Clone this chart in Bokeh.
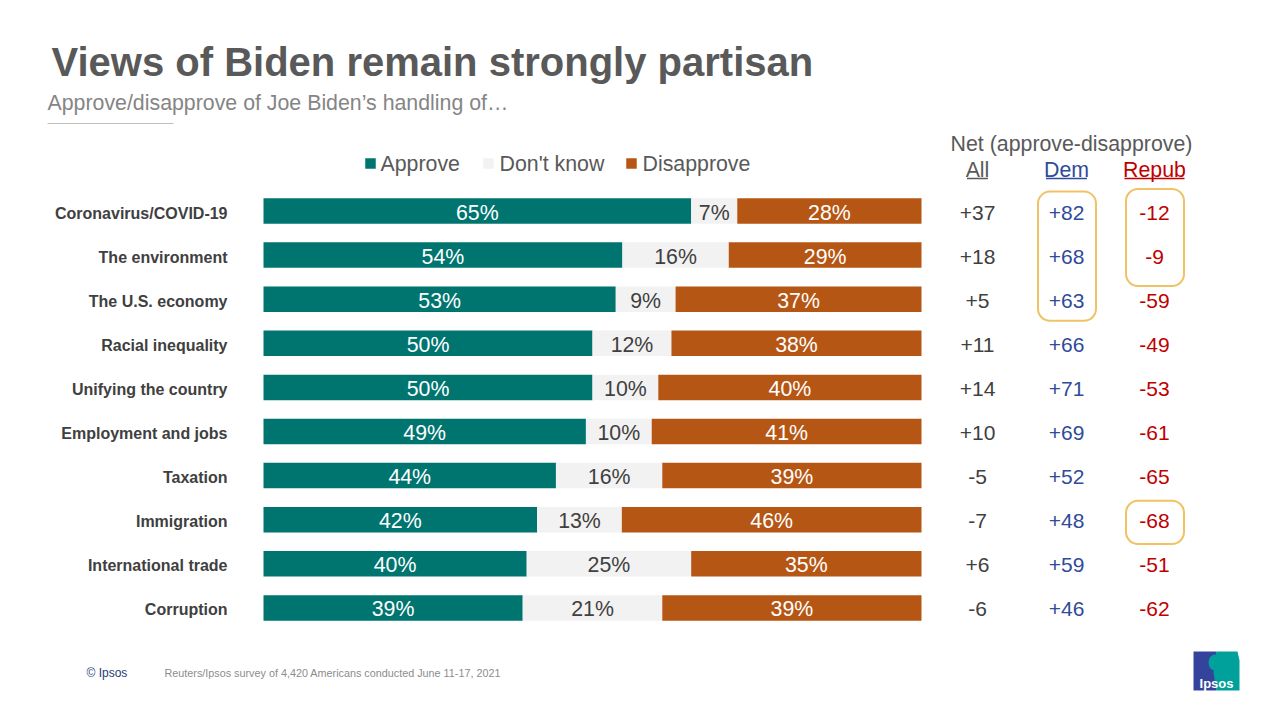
from bokeh.plotting import figure
from bokeh.models import Range1d
from bokeh.core.properties import value
from bokeh.embed import file_html
from bokeh.resources import INLINE

# ---------------- data ----------------
categories = ["Coronavirus/COVID-19", "The environment", "The U.S. economy",
              "Racial inequality", "Unifying the country", "Employment and jobs",
              "Taxation", "Immigration", "International trade", "Corruption"]
approve = [65, 54, 53, 50, 50, 49, 44, 42, 40, 39]
dont_know = [7, 16, 9, 12, 10, 10, 16, 13, 25, 21]
disapprove = [28, 29, 37, 38, 40, 41, 39, 46, 35, 39]
net_all = [37, 18, 5, 11, 14, 10, -5, -7, 6, -6]
net_dem = [82, 68, 63, 66, 71, 69, 52, 48, 59, 46]
net_rep = [-12, -9, -59, -49, -53, -61, -65, -68, -51, -62]
legend_labels = ["Approve", "Don't know", "Disapprove"]
net_headers = ["All", "Dem", "Repub"]
# highlighted cells: (column index, first row, last row)
highlights = [(1, 0, 2), (2, 0, 1), (2, 7, 7)]

TITLE = "Views of Biden remain strongly partisan"
SUBTITLE = "Approve/disapprove of Joe Biden\u2019s handling of\u2026"
NET_TITLE = "Net (approve-disapprove)"
SOURCE = "Reuters/Ipsos survey of 4,420 Americans conducted June 11-17, 2021"

# ---------------- style ----------------
TEAL = "#00756F"
LIGHT = "#F2F2F2"
ORANGE = "#B65614"
DARK = "#404040"
TITLE_C = "#595959"
SUB_C = "#858585"
BLUE = "#2F4B9A"
RED = "#C00000"
GOLD = "#F0C265"
FONT = value("Liberation Sans")

W, H, OFF = 1264, 704, 0
X0, X100 = 263, 921          # page px of 0% and 100%
SX = (X100 - X0) / 100.0
Y0, DY = 210.5, 44.1         # page px of first row centre, row pitch


def fx(px):
    return (px - X0) / SX


def fy(py):
    return (py - Y0) / DY


p = figure(width=W, height=H,
           x_range=Range1d(fx(OFF), fx(OFF + W)),
           y_range=Range1d(fy(OFF + H), fy(OFF)),
           output_backend="svg", toolbar_location=None,
           x_axis_location=None, y_axis_location=None,
           min_border=0, background_fill_color="white",
           border_fill_color="white")
p.grid.visible = False
p.outline_line_color = None

rows = list(range(len(categories)))
tot = [a + d + r for a, d, r in zip(approve, dont_know, disapprove)]
a_end = [a * 100.0 / t for a, t in zip(approve, tot)]
d_end = [(a + d) * 100.0 / t for a, d, t in zip(approve, dont_know, tot)]
r_end = [100.0 for _ in rows]

BH = 25.5 / DY
p.hbar(y=rows, left=0, right=a_end, height=BH, fill_color=TEAL, line_color=None)
p.hbar(y=rows, left=a_end, right=d_end, height=BH, fill_color=LIGHT, line_color=None)
p.hbar(y=rows, left=d_end, right=r_end, height=BH, fill_color=ORANGE, line_color=None)

lab_y = [r + 1.5 / DY for r in rows]
p.text(x=[e / 2 for e in a_end], y=lab_y, text=[f"{v}%" for v in approve],
       text_align="center", text_baseline="middle", text_font=FONT,
       text_font_size="21.33px", text_color="white")
p.text(x=[(a + d) / 2 for a, d in zip(a_end, d_end)], y=lab_y,
       text=[f"{v}%" for v in dont_know],
       text_align="center", text_baseline="middle", text_font=FONT,
       text_font_size="21.33px", text_color=DARK)
p.text(x=[(d + 100) / 2 for d in d_end], y=lab_y,
       text=[f"{v}%" for v in disapprove],
       text_align="center", text_baseline="middle", text_font=FONT,
       text_font_size="21.33px", text_color="white")

# category labels
p.text(x=fx(227), y=[r + 2 / DY for r in rows], text=categories,
       text_align="right", text_baseline="middle", text_font=FONT,
       text_font_style="bold", text_font_size="16px", text_color=DARK)

# net columns
net_x = [fx(977), fx(1066), fx(1154)]
net_cols = [net_all, net_dem, net_rep]
net_colors = [DARK, BLUE, RED]
for cx, vals, col in zip(net_x, net_cols, net_colors):
    p.text(x=cx, y=lab_y, text=[f"{v:+d}" for v in vals],
           text_align="center", text_baseline="middle", text_font=FONT,
           text_font_size="21px", text_color=col)

# highlight boxes
hx, hy, hh = [], [], []
pads = [(0.44, 0.49), (0.50, 0.70), (0.43, 0.55)]
for (c, r0, r1), (pt, pb) in zip(highlights, pads):
    top = r0 - pt
    bot = r1 + pb
    hx.append(net_x[c] + 0.5 / SX)
    hy.append((top + bot) / 2)
    hh.append(bot - top)
p.rect(x=hx, y=hy, width=58 / SX, height=hh, fill_color=None,
       line_color=GOLD, line_width=2, border_radius=12)

# net headers
p.text(x=[fx(1071)], y=[fy(143)], text=[NET_TITLE], text_align="center",
       text_baseline="middle", text_font=FONT, text_font_size="21.33px",
       text_color=TITLE_C)
p.text(x=net_x, y=fy(169), text=net_headers, text_align="center",
       text_baseline="middle", text_font=FONT, text_font_size="21.33px",
       text_color=[TITLE_C, BLUE, RED])
half_w = [10.5, 20.5, 30]
p.segment(x0=[cx - hw / SX for cx, hw in zip(net_x, half_w)], y0=fy(178),
          x1=[cx + hw / SX for cx, hw in zip(net_x, half_w)], y1=fy(178),
          line_color=[TITLE_C, BLUE, RED], line_width=1.5)

# title & subtitle
p.text(x=[fx(51)], y=[fy(61)], text=[TITLE], text_align="left",
       text_baseline="middle", text_font=FONT, text_font_style="bold",
       text_font_size="40px", text_color=TITLE_C)
p.text(x=[fx(47)], y=[fy(102)], text=[SUBTITLE], text_align="left",
       text_baseline="middle", text_font=FONT, text_font_size="21.33px",
       text_color=SUB_C)
p.segment(x0=[fx(47)], y0=[fy(123)], x1=[fx(173)], y1=[fy(123)],
          line_color="#BFBFBF", line_width=1)

# legend
leg_sq_x = [fx(370), fx(488), fx(631)]
leg_tx_x = [fx(380), fx(499), fx(642)]
p.scatter(x=leg_sq_x, y=fy(163), marker="square", size=10.5,
          fill_color=[TEAL, LIGHT, ORANGE], line_color=None)
p.text(x=leg_tx_x, y=fy(163), text=legend_labels, text_align="left",
       text_baseline="middle", text_font=FONT, text_font_size="21.33px",
       text_color=TITLE_C)

# footer
p.text(x=[fx(86)], y=[fy(672)], text=["\u00a9 Ipsos"], text_align="left",
       text_baseline="middle", text_font=FONT, text_font_size="12px",
       text_color="#1F3B73")
p.text(x=[fx(164)], y=[fy(672)], text=[SOURCE], text_align="left",
       text_baseline="middle", text_font=FONT, text_font_size="10.8px",
       text_color="#8C8C8C")

# Ipsos logo
p.quad(left=[fx(1193)], right=[fx(1216)], top=[fy(651)], bottom=[fy(690)],
       fill_color="#34449C", line_color=None)
p.patch(x=[fx(1216), fx(1237), fx(1239), fx(1239), fx(1216), fx(1213), fx(1214)],
        y=[fy(651), fy(651), fy(660), fy(690), fy(690), fy(672), fy(660)],
        fill_color="#00A19B", line_color=None)
p.ellipse(x=[fx(1214.5)], y=[fy(662)], width=13 / SX, height=16 / DY,
          fill_color="#00A19B", line_color=None)
p.text(x=[fx(1216)], y=[fy(683)], text=["Ipsos"], text_align="center",
       text_baseline="middle", text_font=FONT, text_font_style="bold",
       text_font_size="13px", text_color="white")

open("out.html", "w").write(file_html(p, INLINE))
